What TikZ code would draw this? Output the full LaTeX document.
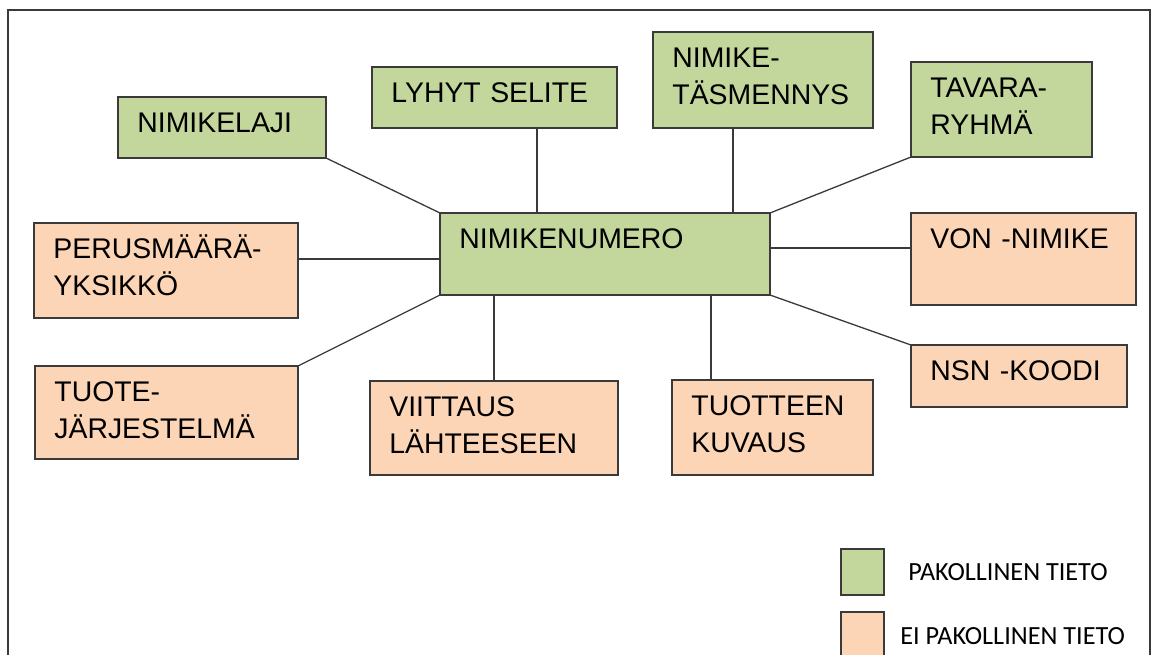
\documentclass[tikz,border=0pt]{standalone}
\usepackage{fontspec}
\setmainfont{Liberation Sans}
\newfontfamily\legendfont{Carlito}
\usetikzlibrary{positioning}
\definecolor{reqgreen}{HTML}{C3D69B}
\definecolor{optorange}{HTML}{FBD5B5}
\definecolor{edge}{HTML}{3A3A3A}

\begin{document}
\begin{tikzpicture}[x=0.5pt,y=-0.5pt,
  box/.style={draw=edge, line width=0.7pt, inner sep=0pt, outer sep=0pt},
  req/.style={box, fill=reqgreen},
  opt/.style={box, fill=optorange},
  boxsize/.style 2 args={minimum width=#1*0.5pt, minimum height=#2*0.5pt},
  txt/.style={anchor=base west, xshift=9.5pt, yshift=-17.6pt, inner sep=0pt,
    text width=160pt, align=left, font=\fontsize{14.2}{18.5}\selectfont},
  legtxt/.style={inner sep=0pt, font=\legendfont\fontsize{13.1}{15}\selectfont},
  link/.style={draw=edge, line width=0.65pt}]
  \useasboundingbox (0,0) rectangle (1154,654);
  \clip (0,0) rectangle (1154,654);
  \fill[white] (0,0) rectangle (1154,654);
  \draw[edge, line width=0.6pt] (8,10) rectangle (1150,700);

  % pakolliset
  \node[req, boxsize={208}{61}, label={[txt]north west:{NIMIKELAJI}}] (laji) at (222,127.5) {};
  \node[req, boxsize={245}{61}, label={[txt]north west:{LYHYT SELITE}}] (lyhyt) at (494.5,97.5) {};
  \node[req, boxsize={220}{96}, label={[txt]north west:{NIMIKE-\\TÄSMENNYS}}] (tasm) at (763,80) {};
  \node[req, boxsize={181}{95}, label={[txt]north west:{TAVARA-\\RYHMÄ}}] (ryhma) at (1001.5,109.5) {};
  \node[req, boxsize={330}{82}, label={[txt]north west:{NIMIKENUMERO}}] (numero) at (605,254) {};

  % ei pakolliset
  \node[opt, boxsize={264}{95}, label={[txt]north west:{PERUSMÄÄRÄ-\\YKSIKKÖ}}] (perus) at (166,270.5) {};
  \node[opt, boxsize={263}{93}, label={[txt]north west:{TUOTE-\\JÄRJESTELMÄ}}] (jarj) at (166.5,412.5) {};
  \node[opt, boxsize={248}{94}, label={[txt]north west:{VIITTAUS\\LÄHTEESEEN}}] (viittaus) at (494,428) {};
  \node[opt, boxsize={201}{95}, label={[txt]north west:{TUOTTEEN\\KUVAUS}}] (kuvaus) at (772.5,427.5) {};
  \node[opt, boxsize={225}{92}, label={[txt]north west:{VON -NIMIKE}}] (von) at (1023.5,259) {};
  \node[opt, boxsize={216}{62}, label={[txt]north west:{NSN -KOODI}}] (nsn) at (1019,376) {};

  \draw[link] (laji.south east) -- (numero.north west);
  \draw[link] (lyhyt.south -| 537,0) -- (numero.north -| 537,0);
  \draw[link] (tasm.south -| 733,0) -- (numero.north -| 733,0);
  \draw[link] (ryhma.south west) -- (numero.north east);
  \draw[link] (numero.east |- 0,248) -- (von.west |- 0,248);
  \draw[link] (numero.south east) -- (nsn.north west);
  \draw[link] (numero.south -| 711,0) -- (kuvaus.north -| 711,0);
  \draw[link] (numero.south -| viittaus.north) -- (viittaus.north);
  \draw[link] (numero.south west) -- (jarj.north east);
  \draw[link] (perus.east |- 0,259) -- (numero.west |- 0,259);

  % selite
  \node[req, boxsize={43}{46}] (legreq) at (862.5,572) {};
  \node[opt, boxsize={43}{48}] (legopt) at (862.5,636) {};
  \node[legtxt, right=12pt of legreq] (legreqtxt) {PAKOLLINEN TIETO};
  \node[legtxt, right=8pt of legopt] (legopttxt) {EI PAKOLLINEN TIETO};
\end{tikzpicture}
\end{document}
